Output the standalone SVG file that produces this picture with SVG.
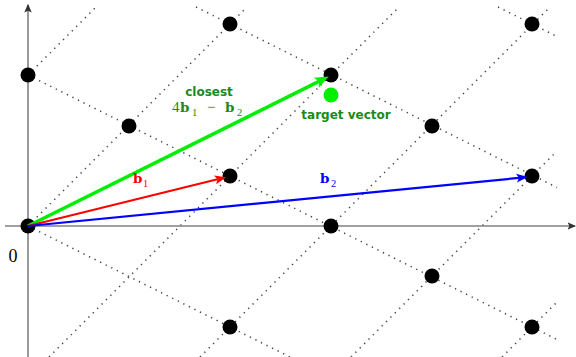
<svg xmlns="http://www.w3.org/2000/svg" width="576" height="357" viewBox="0 0 576 357">
<style>
.grid line{stroke:#444;stroke-width:1.5;stroke-dasharray:1.3 4.9;fill:none}
.axis{stroke:#808080;stroke-width:1.6;fill:none}
.pt{fill:#000}
.lbl{font-family:"DejaVu Sans",sans-serif;font-weight:bold;font-size:12px;fill:#1a8a1a}
.math{font-family:"Liberation Serif","Times New Roman",serif;font-size:15px}
.bb{font-family:"DejaVu Serif",serif;font-weight:bold;font-size:13.5px}
.sub{font-size:10.5px}
</style>
<defs>
<marker id="ag" markerUnits="userSpaceOnUse" markerWidth="20" markerHeight="16" viewBox="0 -8 16 16" refX="3" refY="0" orient="auto">
<path d="M0,-5.5 L14,0 L0,5.5 L3,0 z" fill="#00ee00"/>
</marker>
<marker id="ar" markerUnits="userSpaceOnUse" markerWidth="16" markerHeight="12" viewBox="0 -6 13 12" refX="2.5" refY="0" orient="auto">
<path d="M0,-4.5 L11.5,0 L0,4.5 L2.5,0 z" fill="#ff0000"/>
</marker>
<marker id="ab" markerUnits="userSpaceOnUse" markerWidth="16" markerHeight="12" viewBox="0 -6 13 12" refX="2.5" refY="0" orient="auto">
<path d="M0,-4.5 L11.5,0 L0,4.5 L2.5,0 z" fill="#0000ff"/>
</marker>
<marker id="ax" markerUnits="userSpaceOnUse" markerWidth="10" markerHeight="10" viewBox="0 -4 8 8" refX="6" refY="0" orient="auto">
<path d="M0,-3 L7,0 L0,3 L1.5,0 z" fill="#333"/>
</marker>
</defs>

<g id="grid" class="grid">
<line x1="28" y1="75" x2="96" y2="7"/>
<line x1="28" y1="226" x2="247" y2="7"/>
<line x1="49" y1="357" x2="399" y2="7"/>
<line x1="200" y1="357" x2="550" y2="7"/>
<line x1="351" y1="357" x2="557" y2="151"/>
<line x1="502" y1="357" x2="557" y2="302"/>
<line x1="28" y1="226" x2="290" y2="357"/>
<line x1="28" y1="75" x2="557" y2="339.5"/>
<line x1="196" y1="7" x2="557" y2="187.5"/>
<line x1="498" y1="7" x2="557" y2="36.5"/>
</g>

<g id="axes">
<line class="axis" x1="5" y1="226" x2="575" y2="226" marker-end="url(#ax)"/>
<line class="axis" x1="28" y1="357" x2="28" y2="5" marker-end="url(#ax)"/>
<text x="13" y="262" text-anchor="middle" font-family="Liberation Serif, serif" font-size="18" fill="#000">0</text>
</g>

<g id="lattice">
<circle class="pt" cx="28" cy="75" r="7.5"/>
<circle class="pt" cx="230" cy="24" r="7.5"/>
<circle class="pt" cx="532" cy="24" r="7.5"/>
<circle class="pt" cx="129" cy="126" r="7.5"/>
<circle class="pt" cx="331" cy="75" r="7.5"/>
<circle class="pt" cx="432" cy="126" r="7.5"/>
<circle class="pt" cx="230" cy="176" r="7.5"/>
<circle class="pt" cx="532" cy="176" r="7.5"/>
<circle class="pt" cx="28" cy="226" r="7.5"/>
<circle class="pt" cx="331" cy="226" r="7.5"/>
<circle class="pt" cx="432" cy="276" r="7.5"/>
<circle class="pt" cx="230" cy="327" r="7.5"/>
<circle class="pt" cx="532" cy="327" r="7.5"/>
</g>

<g id="target">
<circle cx="331" cy="95" r="7.5" fill="#00ee00"/>
<text class="lbl" x="346" y="119" text-anchor="middle">target vector</text>
</g>

<g id="connectors">
<line x1="28" y1="226" x2="319" y2="81.4" stroke="#00ee00" stroke-width="3.5" marker-end="url(#ag)"/>
<line x1="28" y1="226" x2="217.5" y2="179.3" stroke="#ff0000" stroke-width="2" marker-end="url(#ar)"/>
<line x1="28" y1="226" x2="519" y2="177.9" stroke="#0000ff" stroke-width="2.2" marker-end="url(#ab)"/>
</g>

<g id="labels">
<text class="lbl" x="209" y="96" text-anchor="middle">closest</text>
<text class="math" fill="#1a8a1a"><tspan x="172" y="112">4</tspan><tspan class="bb" x="180" y="112">b</tspan><tspan class="sub" x="192" y="115.5">1</tspan><tspan x="207" y="112">−</tspan><tspan class="bb" x="225" y="112">b</tspan><tspan class="sub" x="237" y="115.5">2</tspan></text>
<text class="math" fill="#ff0000"><tspan class="bb" x="133" y="183">b</tspan><tspan class="sub" x="143" y="187">1</tspan></text>
<text class="math" fill="#0000ff"><tspan class="bb" x="320" y="183">b</tspan><tspan class="sub" x="331" y="187">2</tspan></text>
</g>
</svg>
